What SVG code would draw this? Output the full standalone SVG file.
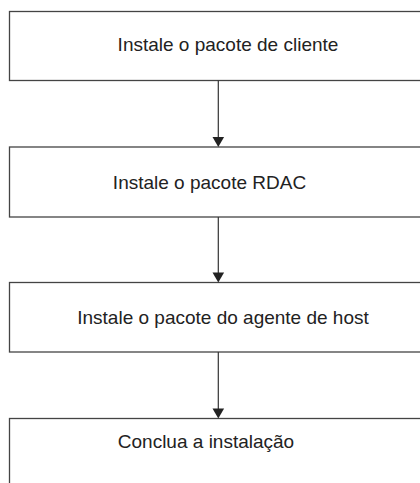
<svg xmlns="http://www.w3.org/2000/svg" width="420" height="483" viewBox="0 0 420 483">
<defs>
<style>
.box{fill:#fff;stroke:#444;stroke-width:1.3}
.lbl{font-family:"Liberation Sans",Arial,sans-serif;font-size:19px;fill:#222;text-anchor:middle}
.edge{stroke:#333;stroke-width:1.2;fill:none}
.head{fill:#222;stroke:none}
</style>
</defs>
<rect width="420" height="483" fill="#fff"/>
<g id="n1"><rect class="box" x="9.5" y="11.5" width="430" height="69"/><text class="lbl" x="228" y="50.5">Instale o pacote de cliente</text></g>
<g id="n2"><rect class="box" x="9.5" y="147" width="430" height="70"/><text class="lbl" x="209.5" y="189">Instale o pacote RDAC</text></g>
<g id="n3"><rect class="box" x="9.5" y="282.5" width="430" height="69.5"/><text class="lbl" x="223" y="324">Instale o pacote do agente de host</text></g>
<g id="n4"><rect class="box" x="9.5" y="418.5" width="430" height="80"/><text class="lbl" x="206" y="447.5">Conclua a instalação</text></g>
<g id="connectors">
<line class="edge" x1="218.3" y1="80.5" x2="218.3" y2="138"/>
<polygon class="head" points="212.5,137 224.1,137 218.3,147"/>
<line class="edge" x1="218.3" y1="217" x2="218.3" y2="273"/>
<polygon class="head" points="212.5,272.5 224.1,272.5 218.3,282.5"/>
<line class="edge" x1="218.3" y1="352" x2="218.3" y2="409"/>
<polygon class="head" points="212.5,408.5 224.1,408.5 218.3,418.5"/>
</g>
</svg>
